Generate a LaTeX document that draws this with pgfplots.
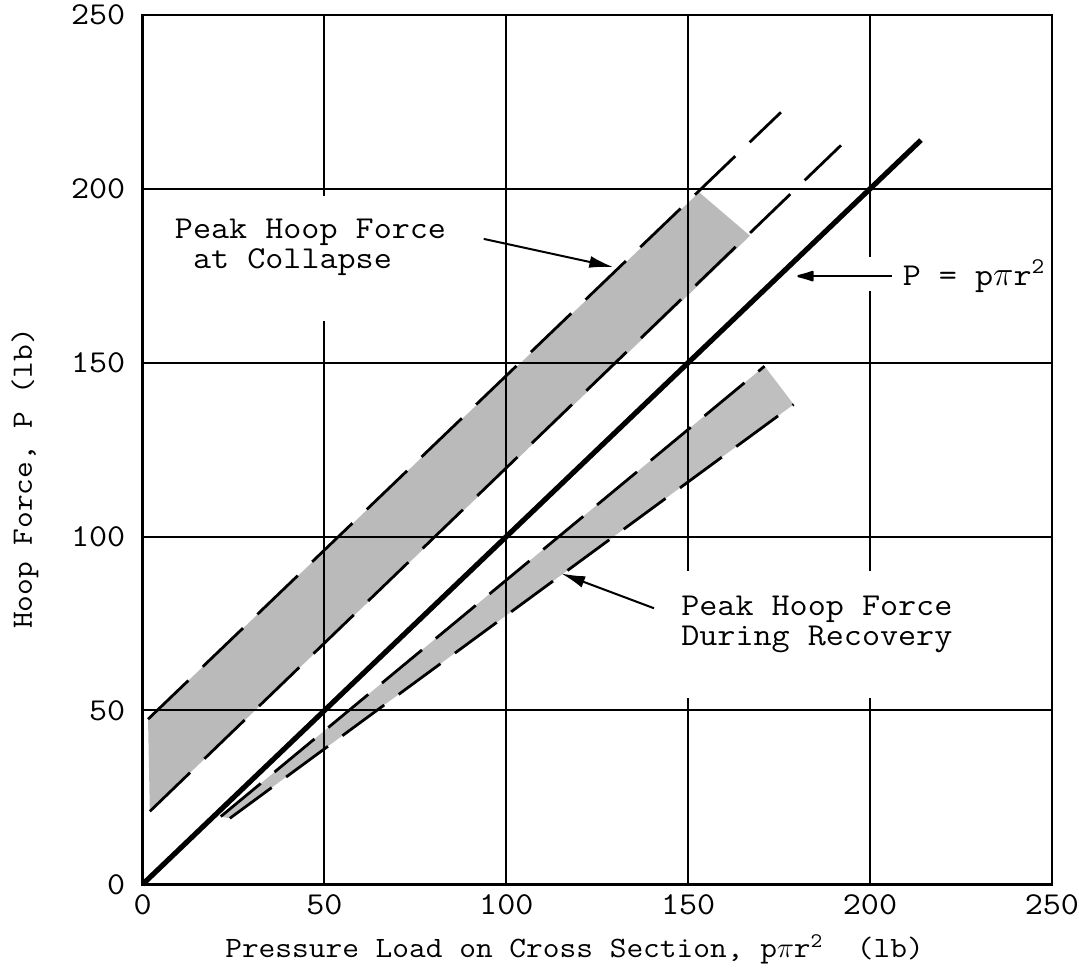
\documentclass[border=0pt]{standalone}
\usepackage{fontspec}
\setmonofont{lmmono12-regular.otf}[FakeStretch=1.1]
\usepackage{pgfplots}
\pgfplotsset{compat=1.18}
\usetikzlibrary{arrows.meta}
\newcommand{\tf}{\ttfamily\fontsize{16}{15}\selectfont}
\newcommand{\tfl}{\ttfamily\fontsize{14.8}{15}\selectfont}
\begin{document}
\begin{tikzpicture}
\begin{axis}[
  width=456pt, height=436pt, scale only axis,
  xmin=0, xmax=250, ymin=0, ymax=250,
  xtick={0,50,...,250}, ytick={0,50,...,250},
  grid=major, major grid style={black, line width=1pt},
  axis line style={line width=1.3pt},
  major tick length=0pt,
  /pgf/number format/assume math mode=true,
  ticklabel style={font=\tf, inner sep=0pt},
  xticklabel style={anchor=north, yshift=-5pt},
  yticklabel style={anchor=east, xshift=-8.5pt},
  clip=false,
]
% white gaps in the grid behind the annotations
\fill[white] (axis cs:7.4,162) rectangle (axis cs:89.6,197.8);
\fill[white] (axis cs:145.8,53.6) rectangle (axis cs:225.3,90);
\fill[white] (axis cs:198,170.6) rectangle (axis cs:236,180.3);

% shaded bands
\addplot[draw=none, fill=black, fill opacity=0.27] coordinates {(1.5,47.5) (153,199) (167,186.5) (2,21)};
\addplot[draw=none, fill=black, fill opacity=0.25] coordinates {(21.5,19.5) (171,149) (179,138) (24,19)};

% dashed boundaries
\addplot[black, line width=1.4pt, dash pattern=on 28pt off 10pt] coordinates {(1.5,47.5) (175.5,222)};
\addplot[black, line width=1.4pt, dash pattern=on 28pt off 10pt] coordinates {(2,21) (192,212.5)};
\addplot[black, line width=1.4pt, dash pattern=on 26pt off 9pt] coordinates {(21.5,19.5) (171,149)};
\addplot[black, line width=1.4pt, dash pattern=on 26pt off 9pt] coordinates {(24,19) (179,138)};

% P = p pi r^2
\addplot[black, line width=2.6pt] coordinates {(0,0) (214,214)};

% annotations
\node[anchor=west, align=left, inner sep=0pt, font=\tf] at (axis cs:8.8,183.2) {Peak Hoop Force\\\hphantom{P}at Collapse};
\node[anchor=west, align=left, inner sep=0pt, font=\tf] at (axis cs:148,74.8) {Peak Hoop Force\\During Recovery};
\node[anchor=west, inner sep=0pt, font=\tf] at (axis cs:208.9,174.9) {P = p$\pi$r\textsuperscript{2}};
\draw[line width=1pt, -{Latex[length=12pt,width=6pt]}] (axis cs:93.8,185.6) -- (axis cs:129.4,177.5);
\draw[line width=1pt, -{Latex[length=12pt,width=6pt]}] (axis cs:140.6,79.4) -- (axis cs:115.1,89.4);
\draw[line width=1.2pt, -{Latex[length=11pt,width=6pt,round]}] (axis cs:206,174.9) -- (axis cs:180,174.9);

% axis labels
\node[font=\tfl, rotate=90] at ([xshift=-59pt]rel axis cs:0,0.467) {Hoop Force, P (lb)};
\node[font=\tfl] at ([yshift=-32.5pt]rel axis cs:0.475,0) {Pressure Load on Cross Section, p$\pi$r\textsuperscript{2}\ \ (lb)};

\coordinate (ll) at (rel axis cs:0,0);
\coordinate (ur) at (rel axis cs:1,1);
\end{axis}
\path ([shift={(-71.5pt,-42.5pt)}]ll) rectangle ([shift={(12pt,7.5pt)}]ur);
\end{tikzpicture}
\end{document}
